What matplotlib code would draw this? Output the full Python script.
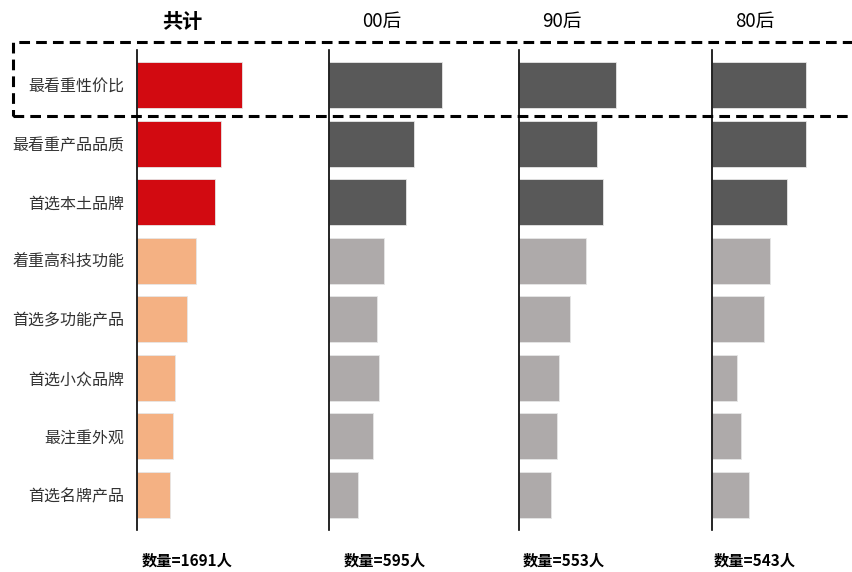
import matplotlib
matplotlib.use('Agg')
import matplotlib.pyplot as plt
from matplotlib.patches import Rectangle

plt.rcParams['font.family'] = ['Noto Sans CJK SC', 'DejaVu Sans']

# Données (part relative)
categories = ['最看重性价比', '最看重产品品质', '首选本土品牌', '着重高科技功能',
              '首选多功能产品', '首选小众品牌', '最注重外观', '首选名牌产品']
groups = ['共计', '00后', '90后', '80后']
counts = ['数量=1691人', '数量=595人', '数量=553人', '数量=543人']
total = [52.5, 42.0, 39.0, 29.5, 24.8, 19.0, 18.0, 16.3]
gen00 = [56.3, 42.3, 38.5, 27.5, 23.8, 25.0, 21.8, 14.5]
gen90 = [48.5, 39.2, 41.8, 33.3, 25.7, 19.8, 19.2, 16.0]
gen80 = [46.9, 46.9, 37.2, 28.7, 25.7, 12.5, 14.4, 18.4]
series = [total, gen00, gen90, gen80]

W, H = 853, 572
fig = plt.figure(figsize=(W / 100, H / 100), dpi=100)

axis_x = [137.5, 329.5, 519, 712.5]      # position de l'axe de chaque panneau (px)
title_x = [182, 382, 562, 755]
count_x = [187, 385, 564, 755]

for i, vals in enumerate(series):
    ax = fig.add_axes([axis_x[i] / W, 42 / H, 170 / W, 480 / H])
    if i == 0:
        colors = ['#D20A11'] * 3 + ['#F4B183'] * 5
    else:
        colors = ['#595959'] * 3 + ['#AEAAAA'] * 5
    y = range(len(categories))
    ax.barh(y, vals, height=0.79, color=colors, edgecolor='#e6e6e6', linewidth=0.6)
    ax.set_xlim(0, 85)
    ax.set_ylim(7.6, -0.6)
    for s in ['top', 'right', 'bottom']:
        ax.spines[s].set_visible(False)
    ax.spines['left'].set_linewidth(1.2)
    ax.set_xticks([])
    ax.tick_params(axis='y', length=0, pad=9.5)
    if i == 0:
        ax.set_yticks(list(y))
        ax.set_yticklabels(categories, fontsize=11.5, color='#333333')
    else:
        ax.set_yticks([])
    fig.text(title_x[i] / W, 1 - 21 / H, groups[i], ha='center', va='center',
             fontsize=14.5 if i == 0 else 13.5, fontweight='bold' if i == 0 else 'medium')
    fig.text(count_x[i] / W, 1 - 561 / H, counts[i], ha='center', va='center',
             fontsize=11, fontweight='bold')

# Cadre en pointillés autour de la première ligne
rect = Rectangle((13 / W, 1 - 116 / H), 860 / W, 74 / H, transform=fig.transFigure,
                 fill=False, edgecolor='black', linewidth=2.2,
                 linestyle=(0, (3.5, 2)), clip_on=False)
fig.patches.append(rect)

plt.savefig('out.png', dpi=100)
